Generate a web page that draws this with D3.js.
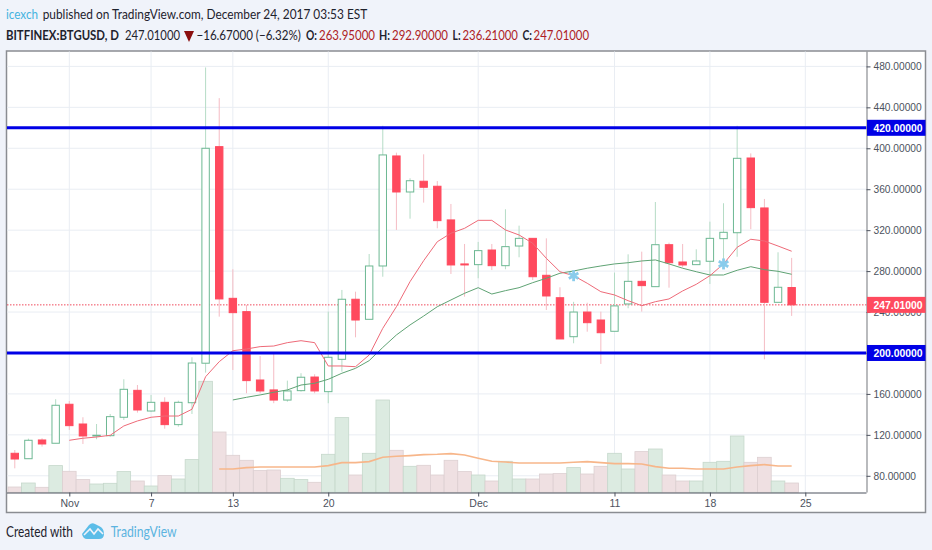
<!DOCTYPE html>
<html>
<head>
<meta charset="utf-8">
<script src="https://cdnjs.cloudflare.com/ajax/libs/d3/7.8.5/d3.min.js"></script>
<style>
  html, body { margin: 0; padding: 0; background: #f0f3fa; }
  svg { display: block; }
  .axis text { font-family: "Liberation Sans", Arial, sans-serif; font-size: 10.5px; fill: #4c525e; }
  .axis.price text { font-size: 10.2px; }
</style>
</head>
<body>
<div id="chart"></div>
<script>
// ---- Data -------------------------------------------------------------
// one entry per day, first candle is 28 Oct 2017
const opens = [102,96.7,115,111.8,149.9,130.6,118.9,119.2,137.2,163.5,143.3,151.8,130,151.4,190,401.6,253.4,240.4,173.6,163.9,154,163.2,176.5,162.2,193.8,252.5,232.9,285,392.5,357.3,367.8,362.9,330,287,286.3,300.6,285.3,304.5,312,275.9,254,215.9,240,232.2,221.2,247.9,270,264.8,305.8,288.9,286.3,289.6,311.7,317.5,390.5,341.7,249.5,263.95];
const highs = [105.2,116.3,116.7,154.8,153.1,137.2,130.6,140.4,174.3,168.7,159,156.7,153.4,195.8,479,449,281.8,246.9,197,199.7,173,180.2,179.2,240.4,261.6,259.9,296.7,422,395.7,370.7,394.1,368,345.6,306.5,308.5,306.5,340.4,324.4,312,312,264.2,250,249.1,240.4,278.5,296.4,299,347.5,307.8,306.5,301.3,328.3,346.3,422,395,350.5,298.4,292.9];
const lows = [87.3,96.7,108.5,111.8,124.8,111.1,115.7,118.2,134.5,141.7,142.6,126,128,140.4,180.8,235.5,183.4,160.6,160.6,150.9,152.4,162.2,160.6,150.9,181.7,215.3,232.9,274.5,320.2,331.2,346.9,321.8,277.2,255,273,281,281.8,293.5,271.3,242,213.7,209.5,220.8,189.3,221.2,243.7,240.4,264.8,263.8,283.7,286.3,267.4,287.6,294,320.9,193.8,249.5,236.21];
const closes = [96.4,114.7,111.1,148.9,129,118.9,119.6,137.8,164.5,144.3,151.8,130,151.8,190.2,400,252.8,239.4,173,162.9,154,162.9,176.3,162.9,195.8,252.5,232.2,285,393.5,357.3,368.3,361.9,329.3,286,286,300,285.3,303.9,312,274.5,255.7,213.7,240,229.6,219.8,246,270,265.8,305.8,288.2,286,289.9,312,317.9,390.2,342,249.5,264.2,247.01];
const volumes = [5.3,9.3,5,26.7,21,12.7,8.3,9,20.7,11.3,6.3,16.7,13.3,32.7,111,60.3,37,32,21.7,22.3,14,12.7,10,38,74.7,17.3,39,92.3,42,26,27,17.3,32,20.7,17.3,11.3,31,13.3,13.3,18.3,18.7,24.7,18.3,26,39,23.3,40.7,43.3,17.3,11.3,11.3,30,31,56.3,30,35,11.3,9.3];

// moving averages, each runs up to the last candle
const redMa = [114.7,116.7,117.9,119.6,128.7,133.6,137.2,138.4,138.4,145,176.8,191.5,202.2,203.9,206.2,206.8,210.1,212,210.1,187.3,187.3,186.6,198,224.1,245.2,269.7,290.2,308.7,317,321.8,329.6,329.6,320.2,315.3,307.2,292.5,279.4,275.5,268.1,259.9,256.7,251.1,246.2,250.1,252.8,260.6,267.1,275.5,287,303.3,311.1,309.4,304.5,299.4];
const greenMa = [154.1,156.7,159,161.6,163.9,168.7,170.4,174.3,180.2,185,192.5,205.4,217.6,227.4,236.1,245.2,251.8,258.3,263.8,257.6,260.9,263.8,268.7,273,277.9,280.1,282.8,285,287,288.2,289.9,290.9,287,282.8,279.4,276.2,276.2,280.8,284.3,281.4,279.8,276.9];
const volumeMa = [23.3,23.3,24.7,25.3,25.3,25.3,25.3,25.3,26.7,29.7,29.7,30.7,35,36,36.7,37.7,38,38.7,37.3,34,31,30.3,29.3,29.3,29.3,29.3,30,30.7,29.7,28.7,28.7,28.3,25.7,24,24,23.3,23.3,23.3,25.3,26.7,27.7,26.3,26.3];

const priceTicks = [80,120,160,200,240,280,320,360,400,440,480];
const dateTicks = [[2017,10,1],[2017,10,7],[2017,10,13],[2017,10,20],[2017,11,1],[2017,11,11],[2017,11,18],[2017,11,25]];
const dateTickLabels = ['Nov','7','13','20','Dec','11','18','25'];
const levels = [420, 200];
const lastPrice = 247.01;
const markers = [[41,275.5],[52,287]]; // candle index, price

const day0 = new Date(Date.UTC(2017, 9, 28));
const dayOf = i => d3.utcDay.offset(day0, i);
const count = closes.length;

// ---- Dimensions -------------------------------------------------------
const width = 932, height = 550;
const frame = { left: 6.5, top: 51, right: 925.5, bottom: 512.5 };
const plot = { left: 7, top: 51.5, right: 866.5, bottom: 492.5 };

const svg = d3.select('#chart').append('svg').attr('width', width).attr('height', height);
svg.append('rect').attr('width', width).attr('height', height).attr('fill', '#f0f3fa');
svg.append('rect')
  .attr('x', frame.left).attr('y', frame.top)
  .attr('width', frame.right - frame.left).attr('height', frame.bottom - frame.top)
  .attr('fill', '#fff').attr('stroke', '#8a8d92').attr('stroke-width', 1.5);

// ---- Scales -----------------------------------------------------------
const xScale = d3.scaleUtc()
  .domain([new Date(Date.UTC(2017, 10, 1)), new Date(Date.UTC(2017, 11, 25))])
  .range([69.3, 805.3]);
const yScale = d3.scaleLinear().domain([80, 480]).range([475.8, 66.4]);
const volScale = d3.scaleLinear().domain([0, 100]).range([492.3, 392.3]);
const tickDates = dateTicks.map(d => new Date(Date.UTC(d[0], d[1], d[2])));
const xOf = i => xScale(dayOf(i));

// ---- Grid -------------------------------------------------------------
const grid = svg.append('g').attr('stroke', '#e9edf3').attr('stroke-width', 1);
grid.selectAll('.h').data(priceTicks).join('line').attr('class', 'h')
  .attr('x1', plot.left).attr('x2', plot.right)
  .attr('y1', d => yScale(d)).attr('y2', d => yScale(d));
grid.selectAll('.v').data(tickDates).join('line').attr('class', 'v')
  .attr('y1', plot.top).attr('y2', plot.bottom)
  .attr('x1', d => xScale(d)).attr('x2', d => xScale(d));

// ---- Volume -----------------------------------------------------------
const barW = xOf(1) - xOf(0);
svg.append('g').selectAll('rect').data(volumes).join('rect')
  .attr('x', (d, i) => xOf(i) - barW / 2)
  .attr('width', barW)
  .attr('y', d => volScale(d))
  .attr('height', d => volScale(0) - volScale(d))
  .attr('fill', (d, i) => closes[i] >= opens[i] ? '#dcebe1' : '#efe0e2')
  .attr('stroke', (d, i) => closes[i] >= opens[i] ? '#c5d8cb' : '#dccfd1')
  .attr('stroke-width', 0.8);

const lineFrom = (arr, scale) => {
  const offset = count - arr.length;
  return d3.line().x((d, i) => xOf(i + offset)).y(d => scale(d))(arr);
};
svg.append('path').attr('d', lineFrom(volumeMa, volScale))
  .attr('fill', 'none').attr('stroke', '#f7b68a').attr('stroke-width', 1.6);

// ---- Last price line --------------------------------------------------
svg.append('line')
  .attr('x1', plot.left).attr('x2', plot.right)
  .attr('y1', yScale(lastPrice)).attr('y2', yScale(lastPrice))
  .attr('stroke', '#f0495c').attr('stroke-width', 1).attr('stroke-dasharray', '1.5 1.5');

// ---- Candles ----------------------------------------------------------
const candle = svg.append('g').selectAll('g').data(closes).join('g');
const isUp = i => closes[i] >= opens[i];
candle.append('line')
  .attr('x1', (d, i) => xOf(i)).attr('x2', (d, i) => xOf(i))
  .attr('y1', (d, i) => yScale(highs[i])).attr('y2', (d, i) => yScale(lows[i]))
  .attr('stroke', (d, i) => isUp(i) ? '#b5dcc6' : '#f5bcc4').attr('stroke-width', 1);
candle.append('rect')
  .attr('x', (d, i) => xOf(i) - 3.7)
  .attr('width', 7.4)
  .attr('y', (d, i) => yScale(Math.max(opens[i], closes[i])))
  .attr('height', (d, i) => Math.abs(yScale(opens[i]) - yScale(closes[i])))
  .attr('fill', (d, i) => isUp(i) ? '#fff' : '#ff4a5e')
  .attr('stroke', (d, i) => isUp(i) ? '#6db893' : '#ff4a5e')
  .attr('stroke-width', 1);

// ---- Moving averages --------------------------------------------------
svg.append('path').attr('d', lineFrom(greenMa, yScale))
  .attr('fill', 'none').attr('stroke', '#5fa374').attr('stroke-width', 1);
svg.append('path').attr('d', lineFrom(redMa, yScale))
  .attr('fill', 'none').attr('stroke', '#ee6a78').attr('stroke-width', 1);

// ---- Markers ----------------------------------------------------------
const mk = svg.append('g').selectAll('g').data(markers).join('g')
  .attr('transform', d => `translate(${xOf(d[0])},${yScale(d[1])})`);
[0, 60, 120].forEach(a => {
  mk.append('line').attr('y1', -5.5).attr('y2', 5.5)
    .attr('transform', `rotate(${a})`)
    .attr('stroke', '#8accec').attr('stroke-width', 2.8);
});

// ---- Blue level lines -------------------------------------------------
svg.append('g').selectAll('line').data(levels).join('line')
  .attr('x1', plot.left).attr('x2', plot.right)
  .attr('y1', d => yScale(d)).attr('y2', d => yScale(d))
  .attr('stroke', '#0000e6').attr('stroke-width', 3);

// ---- Axes -------------------------------------------------------------
const xAxis = d3.axisBottom(xScale).tickValues(tickDates)
  .tickFormat((d, i) => dateTickLabels[i]).tickSize(4).tickPadding(3);
const xG = svg.append('g').attr('class', 'axis')
  .attr('transform', `translate(0,${plot.bottom})`).call(xAxis);
xG.select('.domain').attr('d', `M${plot.left},0.5H${plot.right}`).attr('stroke', '#4c525e').attr('stroke-width', 1.2);
xG.selectAll('.tick line').attr('stroke', '#4c525e');

// the level and last price tags below replace their own tick labels
const yAxis = d3.axisRight(yScale).tickValues(priceTicks)
  .tickFormat(d3.format('.5f')).tickSize(4).tickPadding(3);
const yG = svg.append('g').attr('class', 'axis price')
  .attr('transform', `translate(${plot.right},0)`).call(yAxis);
yG.select('.domain').attr('d', `M0.5,${plot.top}V${plot.bottom}`).attr('stroke', '#8a8d92').attr('stroke-width', 1.2);
yG.selectAll('.tick line').attr('stroke', '#4c525e');
yG.selectAll('.tick text').filter(d => levels.includes(d)).remove();

const priceTags = levels.map(v => ({ v, c: '#0000e6' })).concat([{ v: lastPrice, c: '#ff4a5e' }]);
const tag = svg.append('g').selectAll('g').data(priceTags).join('g')
  .attr('transform', d => `translate(${plot.right},${yScale(d.v)})`);
tag.append('rect').attr('x', 0.5).attr('y', -8).attr('width', frame.right - plot.right - 0.5).attr('height', 16).attr('fill', d => d.c);
tag.append('text').attr('x', 7).attr('y', 4)
  .attr('font-family', '"Liberation Sans", Arial, sans-serif').attr('font-size', 10.4).attr('font-weight', 'bold')
  .attr('fill', '#fff').text(d => d3.format('.5f')(d.v));

// ---- Header -----------------------------------------------------------
// squeezed horizontally to the reference width, the original font is narrower
const label = (x, y, str, len, fill = '#1e222d', weight = 400, size = 14) => {
  const t = svg.append('text')
    .attr('font-family', 'Lato, sans-serif').attr('font-size', size).attr('font-weight', weight)
    .attr('fill', fill)
    .text(str);
  t.attr('transform', `translate(${x},${y}) scale(${len / t.node().getComputedTextLength()},1)`);
  return t;
};

const headRed = '#ad1c24';
label(6, 18.5, 'icexch', 32, '#45b3e0');
label(42.7, 18.5, 'published on TradingView.com, December 24, 2017 03:53 EST', 325);

label(6, 39.5, 'BITFINEX:BTGUSD, D', 113, '#1e222d', 700);
label(125, 39.5, '247.01000', 55);
svg.append('path').attr('d', 'M184,31H194L189,42Z').attr('fill', '#8b0f0f');
label(196.5, 39.5, '−16.67000 (−6.32%)', 104.5);
label(306, 39.5, 'O:', 11, '#1e222d', 700);
label(319, 39.5, '263.95000', 56, headRed);
label(379, 39.5, 'H:', 11, '#1e222d', 700);
label(392, 39.5, '292.90000', 56, headRed);
label(452.6, 39.5, 'L:', 8, '#1e222d', 700);
label(462.5, 39.5, '236.21000', 55.5, headRed);
label(522.5, 39.5, 'C:', 9.5, '#1e222d', 700);
label(533.6, 39.5, '247.01000', 55.5, headRed);

// ---- Footer -----------------------------------------------------------
label(6, 536.5, 'Created with', 67, '#1e222d', 400, 14.5);
svg.append('path')
  .attr('d', 'M82,534 L89,525 Q92,522 95,524 L99,526 Q104,528 104,534 Q104,539 99,539 L87,539 Q83,539 82,534 Z')
  .attr('fill', '#5cbde8');
svg.append('path')
  .attr('d', 'M84,535 L90,529 L94,534 L98,529 L103,534')
  .attr('fill', 'none').attr('stroke', '#f0f3fa').attr('stroke-width', 1.6);
label(110.7, 536.5, 'TradingView', 66, '#5cb3e0', 400, 14.5);
</script>
</body>
</html>
